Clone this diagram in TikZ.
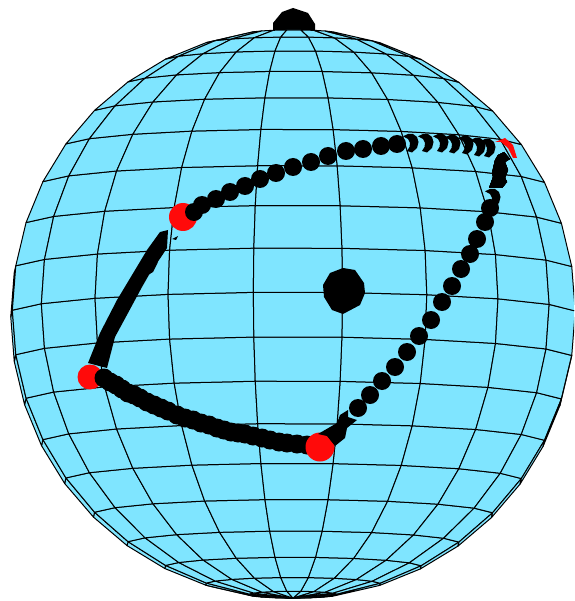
\documentclass[tikz,border=0pt]{standalone}
\usepackage{tikz}
\definecolor{ballblue}{RGB}{127,229,255}
\definecolor{cornerred}{RGB}{255,10,10}
\newcommand{\comma}[2]{\fill[shift={(#1,#2)}] (-10,-6.7) -- (-5,-9) -- (0,-9) -- (4,-6) -- (5.5,-1) -- (4,5) -- (-1,9.5) -- (-6,8) -- (-3.5,4) -- (-3,0) -- (-5,-4) -- cycle;}

\begin{document}
\begin{tikzpicture}[x=1pt, y=-1pt,
			declare function={sx(\la,\lo)=293+285*cos(\la)*sin(\lo);
				sy(\la,\lo)=314-285*(sin(\la)*cos(4.4)+cos(\la)*cos(\lo)*sin(4.4));
				vz(\la,\lo)=cos(\la)*cos(\lo)*cos(4.4)-sin(\la)*sin(4.4);},
			facet/.style={fill=ballblue, draw=black, line width=1pt, line join=round}]
			\useasboundingbox (0,0) rectangle (574,601);
			\clip (0,0) rectangle (574,601); %Bildbereich
			% Marker am Pol, hinter der Kugel
			\fill (273,36) -- (273,23) -- (282,12) -- (293,8) -- (308,13) -- (315,24) -- (315,36) -- cycle;
			% Kugel aus Facetten
			\foreach \la in {-90,-81,...,81} {
				\foreach \lo in {10,28,...,352} {
					\pgfmathparse{vz(\la+4.5,\lo+9)>0 ? 1 : 0}
					\ifnum\pgfmathresult=1
						\draw[facet] ({sx(\la,\lo)},{sy(\la,\lo)}) -- ({sx(\la,\lo+18)},{sy(\la,\lo+18)})
							-- ({sx(\la+9,\lo+18)},{sy(\la+9,\lo+18)}) -- ({sx(\la+9,\lo)},{sy(\la+9,\lo)}) -- cycle;
					\fi
				}
			}
			% Marker in der Mitte
			\fill (343,268) -- (355,270) -- (364,283) -- (365,293) -- (360,305) -- (343,314) -- (332,310) -- (324,297) -- (323,285) -- (330,273) -- cycle;
			% rote Ecke links
			\fill[cornerred] (90,377) circle (12.5pt);
			% untere Kante
			\foreach \x/\y in {104/378,110/382,116/385,122/389,128/393,134/395,140/398,147/402,154/405,161/408,168/411,177/415,185/418,193/420,201/423,209/425,217/428,224/430,231/432,238/433,245/434,253/436,262/438,270/440,279/442,287/443,297/444,307/445}
				\fill (\x,\y) circle (9.5pt);
			% rote Ecken
			\fill[cornerred] (183,217) circle (14pt);
			\fill[cornerred] (320,447) circle (14.5pt);
			\fill[cornerred] (495,142) -- (505,138) -- (513,145) -- (517,158) -- (513,158) -- (508,148) -- (501,142) -- cycle;
			% linke Kante
			\fill (88,363) -- (100,333) -- (117,300) -- (132,275) -- (147,250) -- (160,232) -- (168,230)
				-- (167,248) -- (157,263) -- (150,273) -- (142,287) -- (135,300) -- (128,313) -- (115,337) -- (107,368) -- cycle;
			\fill (172,239) -- (178,236) -- (176,240) -- cycle;
			\fill (156,257) -- (164,252) -- (160,258) -- cycle;
			\fill (142,273) -- (150,268) -- (158,262) -- (153,272) -- (148,275) -- cycle;
			% obere Kante
			\foreach \x/\y in {194/212,202/205,216/199,230/192,245/186,260/179,276/173,293/167,311/162,328/156,346/151,363/149,381/146,397/144}
				\fill (\x,\y) circle (9pt);
			\foreach \x/\y in {413/143,428/143,443/143,455/144,468/145,480/147,490/148}
				\comma{\x}{\y}
			% rechte Kante
			\fill (504,152) -- (510,159) -- (505,162) -- (508,170) -- (505,178) -- (507,182) -- (502,188) -- (489,188) -- (493,177) -- (492,173) -- (495,160) -- (498,155) -- cycle;
			\comma{495}{198}
			\foreach \x/\y in {490/208,485/222,477/239,470/254,461/269,452/286,442/302,431/320,419/336,407/352,395/367,382/381,370/395,358/408}
				\fill (\x,\y) circle (9pt);
			\fill (340,415) -- (348,410) -- (348,417) -- (357,420) -- (347,428) -- (345,438) -- (335,446) -- (327,436) -- (318,434) -- (337,423) -- cycle;
		\end{tikzpicture}
\end{document}
